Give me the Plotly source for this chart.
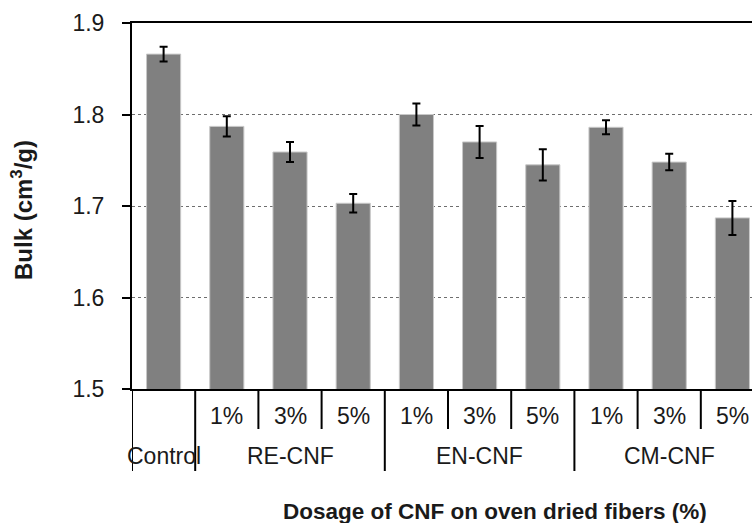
import plotly.graph_objects as go

# Bulk of handsheets by CNF type and dosage (mean ± SD)
groups = ["Control", "RE-CNF", "RE-CNF", "RE-CNF", "EN-CNF", "EN-CNF", "EN-CNF",
          "CM-CNF", "CM-CNF", "CM-CNF"]
dosages = ["", "1%", "3%", "5%", "1%", "3%", "5%", "1%", "3%", "5%"]
bulk = [1.866, 1.787, 1.759, 1.703, 1.800, 1.770, 1.745, 1.786, 1.748, 1.687]
bulk_sd = [0.008, 0.011, 0.011, 0.010, 0.012, 0.0175, 0.017, 0.0077, 0.009, 0.0186]

group_names = ["Control", "RE-CNF", "EN-CNF", "CM-CNF"]
group_centers = [0, 2, 5, 8]
group_edges = [-0.5, 0.5, 3.5, 6.5]
dosage_edges = [1.5, 2.5, 4.5, 5.5, 7.5, 8.5]

categories = [f"{g} {d}".strip() for g, d in zip(groups, dosages)]

FONT = "Liberation Sans, Arial, sans-serif"
TXT = "#1a1a1a"

fig = go.Figure()
fig.add_trace(go.Bar(
    x=categories,
    y=bulk,
    marker=dict(color="#808080", line=dict(color="#c8c8c8", width=1)),
    error_y=dict(type="data", array=bulk_sd, visible=True,
                 color="black", thickness=2, width=4),
    showlegend=False,
))

# lower category labels: dosage row and CNF-type row
for i, d in enumerate(dosages):
    if d:
        fig.add_annotation(x=i, y=0, xref="x", yref="paper", text=d,
                           showarrow=False, yanchor="middle", yshift=-27,
                           font=dict(family=FONT, size=23, color=TXT))
for name, cx in zip(group_names, group_centers):
    fig.add_annotation(x=cx, y=0, xref="x", yref="paper", text=name,
                       showarrow=False, yanchor="middle", yshift=-67,
                       font=dict(family=FONT, size=23, color=TXT))

# divider lines below the axis
for xe in group_edges:
    fig.add_shape(type="line", xref="x", yref="paper", ysizemode="pixel",
                  yanchor=0, x0=xe, x1=xe, y0=0, y1=-82,
                  line=dict(color="black", width=2))
for xe in dosage_edges:
    fig.add_shape(type="line", xref="x", yref="paper", ysizemode="pixel",
                  yanchor=0, x0=xe, x1=xe, y0=0, y1=-40,
                  line=dict(color="black", width=2))

# axis titles
fig.add_annotation(x=0.5855, y=0, xref="paper", yref="paper",
                   text="<b>Dosage of CNF on oven dried fibers (%)</b>",
                   showarrow=False, yanchor="middle", yshift=-122,
                   font=dict(family=FONT, size=22.5, color=TXT))
fig.add_annotation(x=0, y=0.489, xref="paper", yref="paper",
                   text="<b>Bulk (cm<sup>3</sup>/g)</b>", textangle=-90,
                   showarrow=False, xanchor="center", xshift=-110,
                   font=dict(family=FONT, size=24, color=TXT))

fig.update_layout(
    width=752, height=523,
    margin=dict(l=132, r=0, t=23, b=134),
    paper_bgcolor="white", plot_bgcolor="white",
    bargap=0.46,
    font=dict(family=FONT, size=23, color=TXT),
    xaxis=dict(type="category", range=[-0.5, 9.31], showticklabels=False,
               ticks="", showgrid=False, zeroline=False,
               showline=True, linecolor="black", linewidth=2, mirror=True),
    yaxis=dict(range=[1.5, 1.9], tickvals=[1.5, 1.6, 1.7, 1.8, 1.9],
               ticktext=["1.5", "1.6", "1.7", "1.8", "1.9"],
               ticks="outside", ticklen=8, tickwidth=2, tickcolor="black",
               ticklabelstandoff=13,
               showgrid=True, gridcolor="#6e6e6e", gridwidth=1, griddash="3px,3px",
               zeroline=False, showline=True, linecolor="black", linewidth=2,
               tickfont=dict(family=FONT, size=23, color=TXT)),
)

fig.write_html("out.html")
